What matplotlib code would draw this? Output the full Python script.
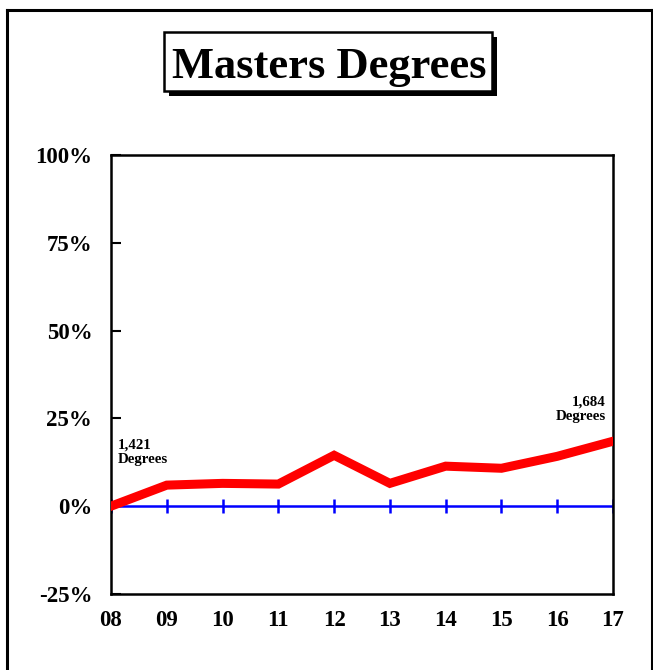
import numpy as np
import matplotlib.pyplot as plt
from matplotlib.lines import Line2D
from matplotlib.ticker import FuncFormatter

plt.rcParams['font.family'] = ['Liberation Serif', 'DejaVu Serif']

# datos
years = ['08', '09', '10', '11', '12', '13', '14', '15', '16', '17']
pct_change = [0.0, 6.0, 6.5, 6.3, 14.5, 6.5, 11.4, 10.8, 14.2, 18.5]
first_count = '1,421'
last_count = '1,684'

fig = plt.figure(figsize=(6.53, 6.70), dpi=100)

# marco de la figura (sin borde inferior)
W, H = 653.0, 670.0
fig.add_artist(Line2D([6.5 / W, 6.5 / W], [0, 1 - 10 / H], color='black', lw=2.2))
fig.add_artist(Line2D([6.5 / W, 651.5 / W], [1 - 10 / H, 1 - 10 / H], color='black', lw=2.2))
fig.add_artist(Line2D([651.5 / W, 651.5 / W], [0, 1 - 10 / H], color='black', lw=2.2))

ax = fig.add_axes([111 / W, 1 - 594 / H, (613 - 111) / W, (594 - 155) / H])

xx = np.arange(len(years))

# linea del cero con marcas
ax.plot(xx, np.zeros(len(xx)), color='#0000ff', lw=1.8, zorder=2)
ax.plot(xx, np.zeros(len(xx)), linestyle='none', marker='|', markersize=10,
        markeredgewidth=1.8, color='#0000ff', zorder=2)

# serie
ax.plot(xx, pct_change, color='#ff0000', lw=6.5, solid_joinstyle='miter', zorder=3)

ax.set_xlim(0, len(years) - 1)
ax.set_ylim(-25, 100)
ax.set_yticks([-25, 0, 25, 50, 75, 100])
ax.yaxis.set_major_formatter(FuncFormatter(lambda v, p: '%d%%' % v))
ax.set_xticks(xx)
ax.set_xticklabels(years)

ax.tick_params(axis='y', direction='in', length=7, width=1.5, pad=13.5,
               labelsize=16.5)
ax.tick_params(axis='x', length=0, pad=11.5, labelsize=16.5)
for lab in ax.get_xticklabels() + ax.get_yticklabels():
    lab.set_fontweight('bold')

for s in ax.spines.values():
    s.set_linewidth(1.8)

ax.text(0.12, 19.3, first_count + '\nDegrees', fontsize=10.7, fontweight='bold',
        ha='left', va='top', linespacing=1.15)
ax.text(8.87, 31.5, last_count + '\nDegrees', fontsize=10.7, fontweight='bold',
        ha='right', va='top', linespacing=1.15)

# titulo con caja y sombra
fig.patches.append(plt.Rectangle((169 / W, 1 - 96 / H), (497 - 169) / W, (96 - 37) / H,
                                 transform=fig.transFigure, fc='black', ec='none',
                                 zorder=1))
fig.patches.append(plt.Rectangle((164 / W, 1 - 91 / H), (492 - 164) / W, (91 - 32) / H,
                                 transform=fig.transFigure, fc='white', ec='black',
                                 lw=1.8, zorder=2))
fig.text(329 / W, 1 - 78 / H, 'Masters Degrees', fontsize=32, fontweight='bold',
         ha='center', va='baseline', zorder=3)

fig.savefig('out.png', dpi=100)
